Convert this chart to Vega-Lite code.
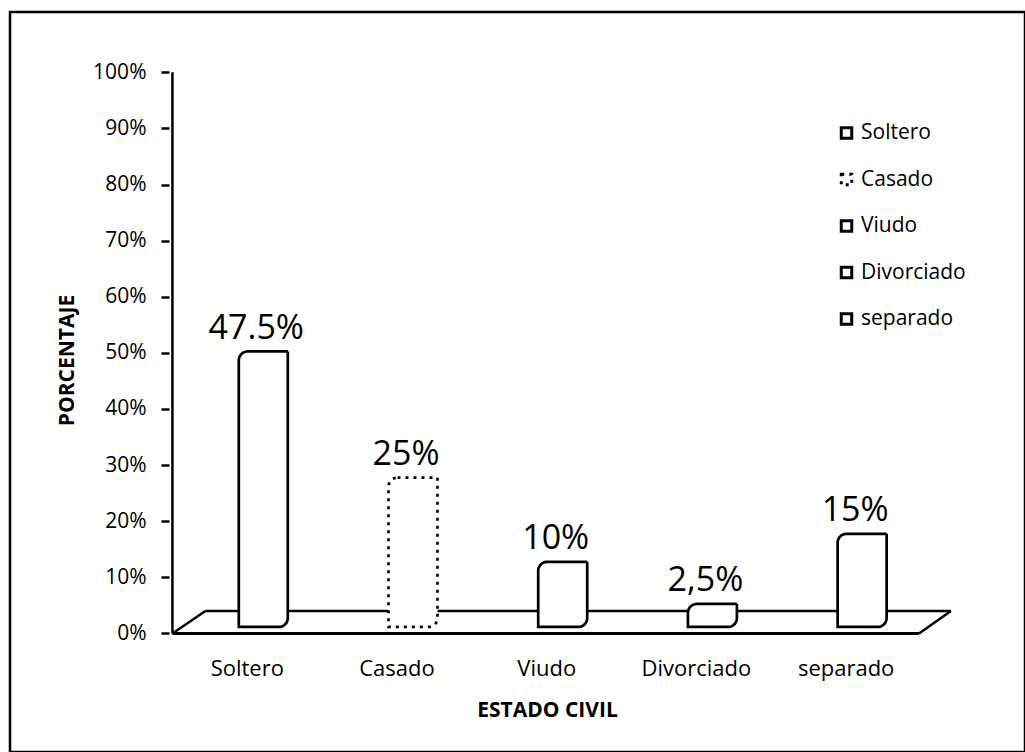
{
  "$schema": "https://vega.github.io/schema/vega-lite/v6.json",
  "width": 1015,
  "height": 740,
  "autosize": {"type": "none"},
  "padding": {"left": 10, "top": 12, "right": 0, "bottom": 0},
  "background": "white",
  "config": {
    "view": {"stroke": "black", "strokeWidth": 2.5},
    "font": "Open Sans",
    "axis": {"labelFont": "Open Sans", "titleFont": "Open Sans", "labelColor": "black", "titleColor": "black", "tickColor": "black"}
  },
  "data": {
    "values": [
      {"estado": "Soltero", "orden": 1, "porcentaje": 0.475, "etiqueta": "47.5%"},
      {"estado": "Casado", "orden": 2, "porcentaje": 0.25, "etiqueta": "25%"},
      {"estado": "Viudo", "orden": 3, "porcentaje": 0.10, "etiqueta": "10%"},
      {"estado": "Divorciado", "orden": 4, "porcentaje": 0.025, "etiqueta": "2,5%"},
      {"estado": "separado", "orden": 5, "porcentaje": 0.15, "etiqueta": "15%"}
    ]
  },
  "layer": [
    {
      "data": {"values": [{}]},
      "mark": {"type": "rule", "stroke": "black", "strokeWidth": 2.5},
      "encoding": {
        "x": {
          "datum": 0.72,
          "type": "quantitative",
          "scale": {"domain": [-0.5516, 6.1614], "nice": false, "zero": false},
          "axis": {
            "title": "ESTADO CIVIL",
            "titleFontSize": 21,
            "titleFontWeight": "bold",
            "titleX": 537,
            "titleY": -42,
            "titleBaseline": "middle",
            "labels": false,
            "ticks": false,
            "domain": false,
            "grid": false
          }
        },
        "x2": {"datum": 5.70},
        "y": {
          "datum": 0.040,
          "type": "quantitative",
          "scale": {"domain": [-0.2112, 1.1074], "nice": false, "zero": false},
          "axis": {
            "title": "PORCENTAJE",
            "titleFontSize": 21,
            "titleFontWeight": "bold",
            "titleAngle": -90,
            "titleX": -102,
            "titleY": 348,
            "titleAlign": "center",
            "titleBaseline": "middle",
            "offset": -159,
            "values": [0, 0.1, 0.2, 0.3, 0.4, 0.5, 0.6, 0.7, 0.8, 0.9, 1.0],
            "format": ".0%",
            "labelFontSize": 21,
            "labelPadding": 15,
            "tickSize": 8,
            "tickWidth": 2.5,
            "domain": false,
            "grid": false
          }
        }
      }
    },
    {
      "data": {"values": [{}]},
      "mark": {"type": "rule", "stroke": "black", "strokeWidth": 2.5},
      "encoding": {
        "x": {"datum": 0.5, "type": "quantitative"},
        "x2": {"datum": 0.72},
        "y": {"datum": 0, "type": "quantitative"},
        "y2": {"datum": 0.040}
      }
    },
    {
      "data": {"values": [{}]},
      "mark": {"type": "rule", "stroke": "black", "strokeWidth": 2.5},
      "encoding": {
        "x": {"datum": 5.487, "type": "quantitative"},
        "x2": {"datum": 5.70},
        "y": {"datum": 0, "type": "quantitative"},
        "y2": {"datum": 0.040}
      }
    },
    {
      "data": {"values": [{}]},
      "mark": {"type": "rule", "stroke": "black", "strokeWidth": 3},
      "encoding": {
        "x": {"datum": 0.5, "type": "quantitative"},
        "x2": {"datum": 5.487},
        "y": {"datum": 0, "type": "quantitative"}
      }
    },
    {
      "data": {"values": [{}]},
      "mark": {"type": "rule", "stroke": "black", "strokeWidth": 2.5},
      "encoding": {
        "x": {"datum": 0.5, "type": "quantitative"},
        "y": {"datum": 0, "type": "quantitative"},
        "y2": {"datum": 1}
      }
    },
    {
      "mark": {
        "type": "bar",
        "orient": "vertical",
        "width": 49,
        "fill": "white",
        "stroke": "black",
        "strokeWidth": 2.7,
        "xOffset": 16,
        "yOffset": -15.5,
        "y2Offset": -6.5,
        "cornerRadiusTopLeft": 9,
        "cornerRadiusBottomRight": 9
      },
      "encoding": {
        "x": {"field": "orden", "type": "quantitative"},
        "y": {"field": "porcentaje", "type": "quantitative"},
        "y2": {"datum": 0},
        "strokeDash": {
          "field": "estado",
          "type": "nominal",
          "scale": {
            "domain": ["Soltero", "Casado", "Viudo", "Divorciado", "separado"],
            "range": [[1, 0], [3, 5], [1, 0], [1, 0], [1, 0]]
          },
          "legend": {
            "title": null,
            "orient": "none",
            "legendX": 826,
            "legendY": 110.5,
            "symbolType": "square",
            "symbolSize": 110,
            "symbolStrokeWidth": 3,
            "labelFont": "Open Sans",
            "labelFontSize": 21,
            "labelColor": "black",
            "labelOffset": 4,
            "rowPadding": 23.5,
            "encode": {
              "symbols": {
                "update": {
                  "stroke": {"value": "black"},
                  "fill": {"value": "white"},
                  "strokeWidth": {"value": 3},
                  "opacity": {"value": 1}
                }
              }
            }
          }
        }
      }
    },
    {
      "mark": {"type": "text", "font": "Open Sans", "fontSize": 34, "color": "black", "baseline": "alphabetic", "dx": 9, "dy": -28},
      "encoding": {
        "x": {"field": "orden", "type": "quantitative"},
        "y": {"field": "porcentaje", "type": "quantitative"},
        "text": {"field": "etiqueta"}
      }
    },
    {
      "mark": {"type": "text", "font": "Open Sans", "fontSize": 22, "color": "black", "baseline": "middle", "dy": 36},
      "encoding": {
        "x": {"field": "orden", "type": "quantitative"},
        "y": {"datum": 0, "type": "quantitative"},
        "text": {"field": "estado"}
      }
    }
  ]
}
